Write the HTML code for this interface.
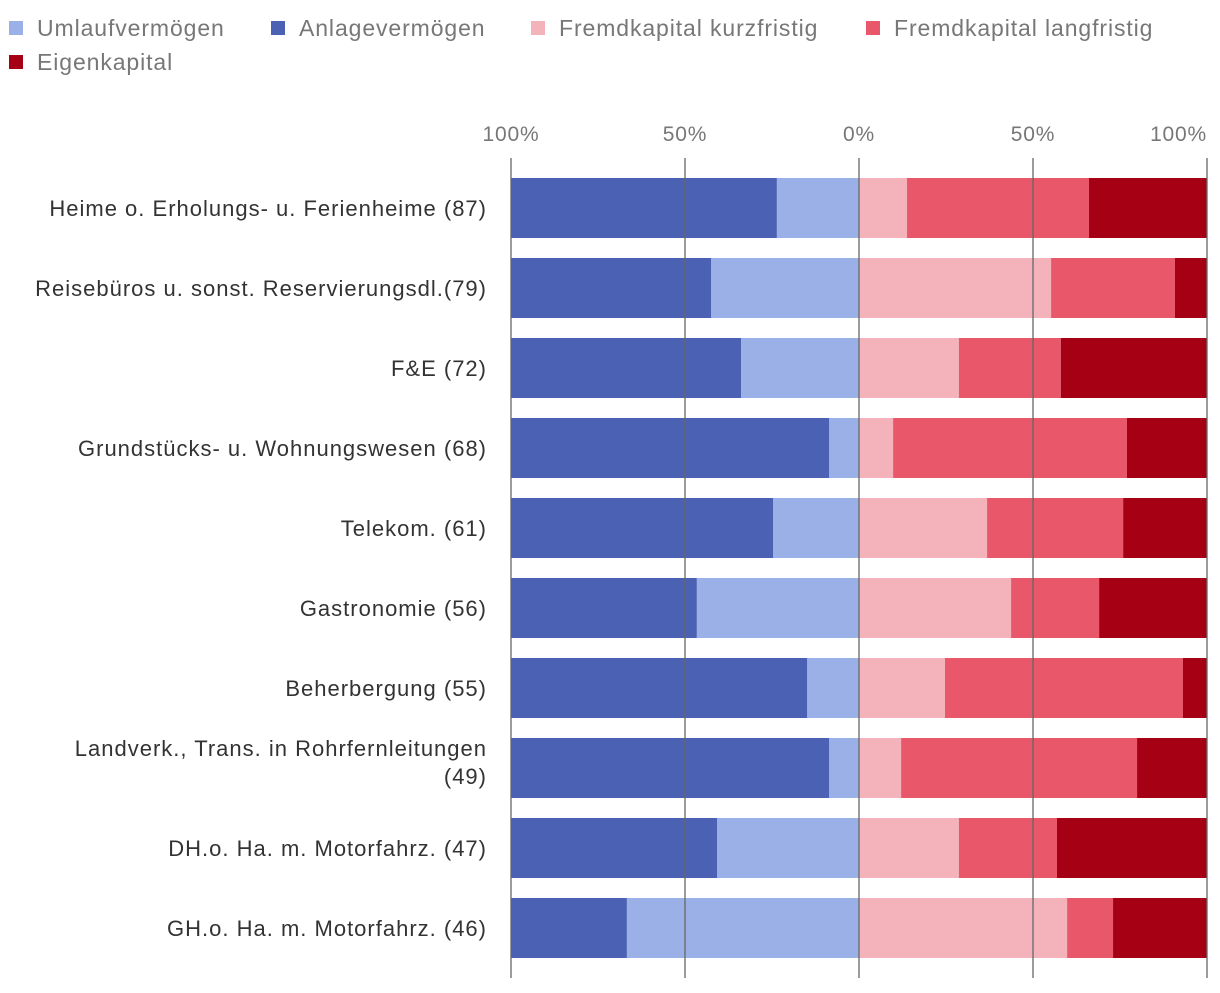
<!DOCTYPE html>
<html><head><meta charset="utf-8">
<style>
body{margin:0;background:#fff;width:1220px;height:988px;overflow:hidden;font-family:"Liberation Sans",sans-serif;}
svg text{font-family:"Liberation Sans",sans-serif;}
</style></head>
<body>
<svg id="chart" width="1220" height="988" xmlns="http://www.w3.org/2000/svg">
<g id="legend"></g>
<g id="bars"></g>
<g id="grid"></g>
<g id="labels"></g>
<g id="ticks"></g>
</svg>
<script>
const categories = ["Heime o. Erholungs- u. Ferienheime (87)","Reisebüros u. sonst. Reservierungsdl.(79)","F&E (72)","Grundstücks- u. Wohnungswesen (68)","Telekom. (61)","Gastronomie (56)","Beherbergung (55)","Landverk., Trans. in Rohrfernleitungen|(49)","DH.o. Ha. m. Motorfahrz. (47)","GH.o. Ha. m. Motorfahrz. (46)"];
const umlauf = [23.6,42.5,33.9,8.6,24.7,46.6,14.9,8.6,40.8,66.7];
const anlage = [76.4,57.5,66.1,91.4,75.3,53.4,85.1,91.4,59.2,33.3];
const fkKurz = [13.8,55.2,28.7,9.8,36.8,43.7,24.7,12.1,28.7,59.8];
const fkLang = [52.3,35.6,29.3,67.2,39.1,25.3,68.4,67.8,28.2,13.2];
const eigen = [33.9,9.2,42.0,23.0,24.1,31.0,6.9,20.1,43.1,27.0];
const tickLabels = ["100%","50%","0%","50%","100%"];
const tickValues = [-100,-50,0,50,100];
const legendNames = ["Umlaufvermögen","Anlagevermögen","Fremdkapital kurzfristig","Fremdkapital langfristig","Eigenkapital"];
const legendColors = ["#9bb0e6","#4b62b4","#f4b3bb","#e8576a","#a60014"];

const NS="http://www.w3.org/2000/svg";
const x0=859, scale=3.48;
function xs(v){return x0+v*scale;}
function ys(i){return 178+i*80;}
const barH=60;
function mk(tag,attrs,parent){const e=document.createElementNS(NS,tag);for(const k in attrs)e.setAttribute(k,attrs[k]);parent.appendChild(e);return e;}

const lg=document.getElementById('legend');
const lpos=[[9,21],[271,21],[531,21],[866,21],[9,55]];
legendNames.forEach((n,i)=>{
  const g=mk('g',{},lg);
  
  
  mk('rect',{x:lpos[i][0],y:lpos[i][1],width:14,height:14,fill:legendColors[i]},g);
  const t=mk('text',{x:lpos[i][0]+28,y:lpos[i][1]+15,'font-size':23,'letter-spacing':0.9,fill:'#777'},g);
  t.textContent=n;
});

const bg=document.getElementById('bars');
categories.forEach((c,i)=>{
  const y=ys(i);
  const segs=[
    [-(umlauf[i]),0,legendColors[0],'bar-umlauf'],
    [-(umlauf[i]+anlage[i]),-umlauf[i],legendColors[1],'bar-anlage'],
    [0,fkKurz[i],legendColors[2],'bar-fk-kurz'],
    [fkKurz[i],fkKurz[i]+fkLang[i],legendColors[3],'bar-fk-lang'],
    [fkKurz[i]+fkLang[i],fkKurz[i]+fkLang[i]+eigen[i],legendColors[4],'bar-eigenkapital']
  ];
  segs.forEach(s=>{
    const r=mk('rect',{x:xs(s[0]),y:y,width:(s[1]-s[0])*scale,height:barH,fill:s[2]},bg);
    
    
  });
});

const gg=document.getElementById('grid');
const tg=document.getElementById('ticks');
tickValues.forEach((v,i)=>{
  const l=mk('line',{x1:xs(v),x2:xs(v),y1:158,y2:978,stroke:'#666','stroke-width':1.3},gg);
  
  
  const anchor = i===tickValues.length-1 ? 'end' : 'middle';
  const t=mk('text',{x:xs(v),y:141,'font-size':21,'letter-spacing':0.8,fill:'#777','text-anchor':anchor},tg);
  
  
  t.textContent=tickLabels[i];
});

const lb=document.getElementById('labels');
categories.forEach((c,i)=>{
  const parts=c.split('|');
  const y=ys(i)+30;
  parts.forEach((p,j)=>{
    const yy = parts.length>1 ? y-12+j*28 : y+8;
    const t=mk('text',{x:487,y:yy,'font-size':22,'letter-spacing':1.0,fill:'#333','text-anchor':'end'},lb);
    
    
    t.textContent=p;
  });
});
</script>
</body></html>
